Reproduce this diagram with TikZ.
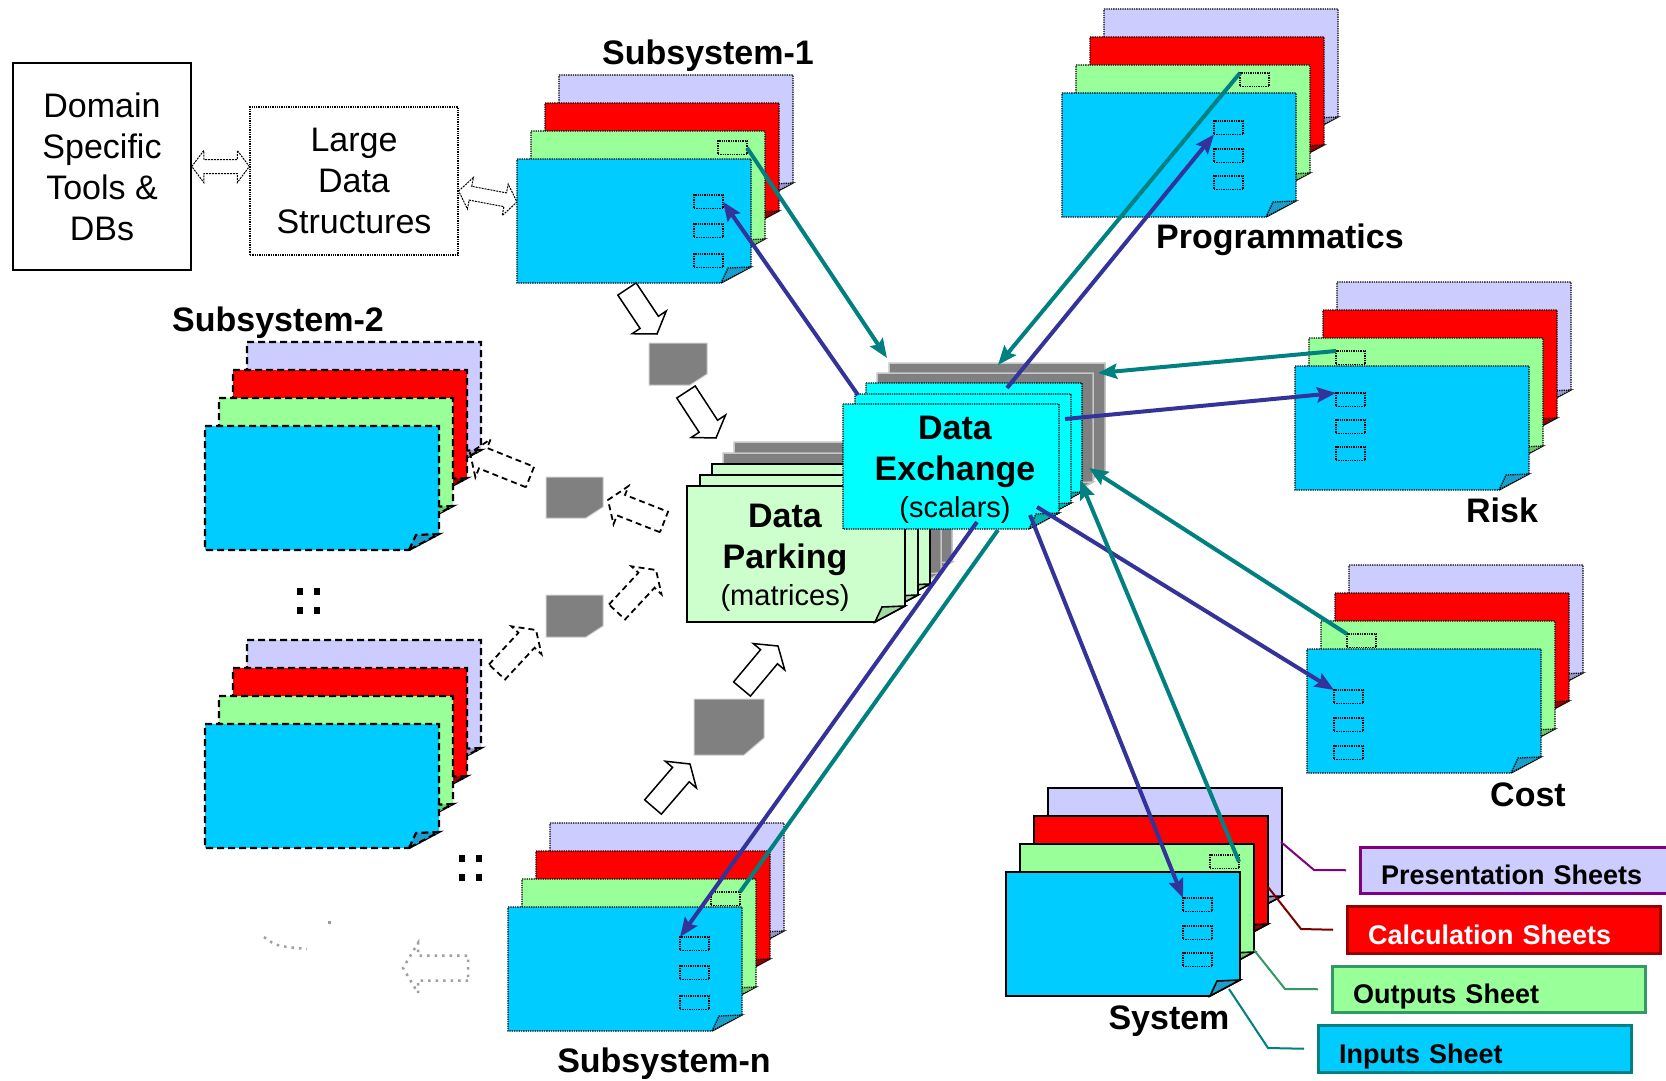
\documentclass[tikz,border=0pt]{standalone}
\usepackage{fontspec}
\setmainfont{Liberation Sans}
\usepackage{tikz}
\usetikzlibrary{calc, arrows.meta}
\definecolor{sheetlav}{HTML}{CCCCFF}
\definecolor{sheetred}{HTML}{FF0000}
\definecolor{sheetgreen}{HTML}{99FF99}
\definecolor{sheetblue}{HTML}{00CCFF}
\definecolor{foldlav}{HTML}{9999CC}
\definecolor{foldred}{HTML}{990000}
\definecolor{foldgreen}{HTML}{66CC66}
\definecolor{foldblue}{HTML}{1A9FCC}
\definecolor{dxcyan}{HTML}{00FFFF}
\definecolor{foldcyan}{HTML}{00B3B3}
\definecolor{parkgreen}{HTML}{CCFFCC}
\definecolor{foldpark}{HTML}{A3D9A3}
\definecolor{chunkgray}{HTML}{808080}
\definecolor{linkteal}{HTML}{008080}
\definecolor{linkindigo}{HTML}{333399}
\definecolor{legpurple}{HTML}{800080}
\definecolor{legred}{HTML}{990000}
\definecolor{legsea}{HTML}{339966}

% one sheet with a curled corner: x, y (top left), width, height, fill, curl fill
\newcommand{\docsheet}[7][]{%
  \filldraw[fill=#6, #1] (#2,#3) -- ++(#4,0) -- ++(0,#5-16) -- ++(-30,16) -- (#2,#3+#5) -- cycle;
  \filldraw[fill=#7, #1] (#2+#4-30,#3+#5) -- ++(7,-15) -- ++(23,-1) -- cycle;}
% the four sheets of one workbook, front sheet at x, y
\newcommand{\docstack}[3][]{%
  \docsheet[#1]{#2+42}{#3-84}{234}{124}{sheetlav}{foldlav}
  \docsheet[#1]{#2+28}{#3-56}{234}{124}{sheetred}{foldred}
  \docsheet[#1]{#2+14}{#3-28}{234}{124}{sheetgreen}{foldgreen}
  \docsheet[#1]{#2}{#3}{234}{124}{sheetblue}{foldblue}}
% grey block of data with a cut corner
\newcommand{\datachunk}[6]{%
  \filldraw[chunk] (#1,#2) -- (#3,#2) -- (#3,#4-#6) -- (#3-#5,#4) -- (#1,#4) -- cycle;}
% hollow block arrow: tail, tip, half shaft, half head, head length
\newcommand{\hollowarrow}[6][]{%
  \coordinate (ha-k) at ($(#3)!#6!(#2)$);
  \draw[#1] ($(#2)!#4!90:(#3)$) -- ($(ha-k)!#4!90:(#3)$) -- ($(ha-k)!#5!90:(#3)$) -- (#3)
    -- ($(ha-k)!#5!-90:(#3)$) -- ($(ha-k)!#4!-90:(#3)$) -- ($(#2)!#4!-90:(#3)$) -- cycle;}
% hollow two way arrow
\newcommand{\twowayarrow}[3][]{%
  \coordinate (tw-k1) at ($(#2)!12pt!(#3)$);
  \coordinate (tw-k2) at ($(#3)!12pt!(#2)$);
  \draw[#1] (#2) -- ($(tw-k1)!16pt!90:(#3)$) -- ($(tw-k1)!7pt!90:(#3)$) -- ($(tw-k2)!7pt!-90:(#2)$)
    -- ($(tw-k2)!16pt!-90:(#2)$) -- (#3) -- ($(tw-k2)!16pt!90:(#2)$) -- ($(tw-k2)!7pt!90:(#2)$)
    -- ($(tw-k1)!7pt!-90:(#3)$) -- ($(tw-k1)!16pt!-90:(#3)$) -- cycle;}

\begin{document}
\begin{tikzpicture}[x=1pt, y=-1pt,
  sheetdot/.style={draw=black, densely dotted, line width=1.3pt},
  sheetdash/.style={draw=black, dash pattern=on 7pt off 4pt, line width=2.2pt},
  sheetsolid/.style={draw=black, line width=1.6pt},
  sheetghost/.style={draw=gray!45, line width=1.5pt},
  cell/.style={draw=black, densely dotted, line width=1.3pt, minimum width=29pt, minimum height=13.5pt, inner sep=0pt, outer sep=0pt, anchor=north west},
  chunk/.style={fill=chunkgray, draw=gray!40, line width=1pt},
  blockarr/.style={fill=white, draw=black, line width=1.5pt},
  ghostarr/.style={draw=black, dash pattern=on 6pt off 4pt, line width=1.8pt},
  fadedarr/.style={draw=gray!75, dash pattern=on 2.5pt off 5pt, line width=2.5pt},
  dblarr/.style={fill=white, draw=black, dash pattern=on 2pt off 1pt, line width=1pt},
  tealink/.style={draw=linkteal, line width=4pt, -{Stealth[length=19pt, width=15pt, inset=3pt]}},
  bluelink/.style={draw=linkindigo, line width=4pt, -{Stealth[length=19pt, width=15pt, inset=3pt]}},
  leader/.style={line width=2pt},
  plaintext/.style={font=\fontsize{34}{41}\selectfont, align=center},
  lbl/.style={font=\bfseries\fontsize{34}{41}\selectfont},
  legbox/.style={anchor=north west, line width=3pt, outer sep=0pt, minimum height=46.5pt, inner xsep=21pt, text width=271pt, text height=29pt, text depth=0pt, align=left, font=\bfseries\fontsize{27}{31}\selectfont}]
\path[use as bounding box, fill=white] (0,0) rectangle (1666,1081);

% Tools and large data structures
\node[plaintext, draw, line width=1.5pt, minimum width=178pt, minimum height=207pt] (domain) at (102,166.5) {Domain\\Specific\\Tools \&\\DBs};
\node[plaintext, sheetdot, minimum width=208pt, minimum height=148pt] (large) at (354,181) {Large\\Data\\Structures};
\coordinate (dl-r) at (large.west |- domain.east);
\coordinate (ls-l) at ([yshift=-10pt]large.east);
\coordinate (ss1-left) at (517,202);
\twowayarrow[dblarr]{domain.east}{dl-r}
\twowayarrow[dblarr]{ls-l}{ss1-left}

% Subsystem-1
\docstack[sheetdot]{517}{159}
\foreach \yy [count=\k] in {195,224,254} \node[cell] (ss1-c\k) at (694,\yy) {};
\node[cell] (ss1-g) at (718,141) {};

% Subsystem-2 and the next one (not yet linked)
\docstack[sheetdash]{205}{426}
\docstack[sheetdash]{205}{724}
\foreach \dx in {0,17} \foreach \dy in {0,19} \fill (297+\dx,588+\dy) rectangle ++(6,7);
\foreach \dx in {0,17} \foreach \dy in {0,19} \fill (459+\dx,855+\dy) rectangle ++(6,7);

% blocks of data on their way to the parking
\datachunk{649}{343}{707}{385}{17}{11}
\datachunk{546}{477}{603}{518}{17}{11}
\datachunk{546}{595}{603}{637}{17}{11}
\datachunk{694}{699}{764}{755}{20}{17}
\coordinate (ss1-out) at (627,289); \coordinate (g1-in) at (657,334);
\coordinate (g1-out) at (686,392); \coordinate (dp-in1) at (716,438);
\coordinate (ssn-out) at (653,807); \coordinate (g4-in) at (690,764);
\coordinate (g4-out) at (742,689); \coordinate (dp-in2) at (778,646);
\hollowarrow[blockarr]{ss1-out}{g1-in}{11pt}{20.5pt}{14pt}
\hollowarrow[blockarr]{g1-out}{dp-in1}{11pt}{20.5pt}{14pt}
\hollowarrow[blockarr]{ssn-out}{g4-in}{11pt}{20.5pt}{14pt}
\hollowarrow[blockarr]{g4-out}{dp-in2}{11pt}{20.5pt}{14pt}
\coordinate (g2-out) at (530,477); \coordinate (ss2-in) at (470,453);
\coordinate (dp-out) at (664,522); \coordinate (g2-in) at (608,500);
\coordinate (ss3-out) at (497,672); \coordinate (g3-in) at (536,630);
\coordinate (g3-out) at (617,612); \coordinate (dp-in3) at (656,570);
\hollowarrow[ghostarr]{g2-out}{ss2-in}{11pt}{20.5pt}{14pt}
\hollowarrow[ghostarr]{dp-out}{g2-in}{11pt}{20.5pt}{14pt}
\hollowarrow[ghostarr]{ss3-out}{g3-in}{11pt}{20.5pt}{14pt}
\hollowarrow[ghostarr]{g3-out}{dp-in3}{11pt}{20.5pt}{14pt}

% faded leftovers
\coordinate (fade-tail) at (468,968); \coordinate (fade-tip) at (403,968);
\hollowarrow[fadedarr]{fade-tail}{fade-tip}{12.5pt}{25pt}{15pt}
\draw[fadedarr] (264,937) .. controls (276,946) .. (307,949);
\fill[gray!80] (327.5,920.5) rectangle ++(3,3);

% Data Parking
\docsheet[sheetghost]{734}{442}{218}{136}{chunkgray}{chunkgray}
\docsheet[sheetghost]{723}{453}{218}{136}{chunkgray}{chunkgray}
\docsheet[sheetsolid]{712}{464}{218}{136}{parkgreen}{foldpark}
\docsheet[sheetsolid]{700}{475}{218}{136}{parkgreen}{foldpark}
\docsheet[sheetsolid]{687}{486}{218}{136}{parkgreen}{foldpark}
\node[lbl, align=center] (dp) at (785,558) {Data\\Parking\\[-4pt]{\mdseries\fontsize{29}{35}\selectfont (matrices)}};

% Data Exchange
\docsheet[sheetghost]{889}{363}{216}{125}{chunkgray}{chunkgray}
\docsheet[sheetghost]{877}{373}{216}{125}{chunkgray}{chunkgray}
\docsheet[sheetdot]{866}{383}{216}{125}{dxcyan}{foldcyan}
\docsheet[sheetdot]{855}{394}{216}{125}{dxcyan}{foldcyan}
\docsheet[sheetdot]{843}{404}{216}{125}{dxcyan}{foldcyan}
\node[lbl, align=center] (dx) at (955,470) {Data\\Exchange\\[-4pt]{\mdseries\fontsize{29}{35}\selectfont (scalars)}};
\coordinate (dx-ss1in) at (887,358);  \coordinate (dx-ss1out) at (858,395);
\coordinate (dx-progin) at (998,365); \coordinate (dx-progout) at (1007,388);
\coordinate (dx-riskin) at (1098,373); \coordinate (dx-riskout) at (1065,419);
\coordinate (dx-costin) at (1089,468); \coordinate (dx-costout) at (1037,507);
\coordinate (dx-sysin) at (1080,480); \coordinate (dx-sysout) at (1030,515);
\coordinate (dx-ssnin) at (998,530);  \coordinate (dx-ssnout) at (977,522);

% Programmatics
\docstack[sheetdot]{1062}{93}
\foreach \yy [count=\k] in {121,149,176} \node[cell] (prog-c\k) at (1214,\yy) {};
\node[cell] (prog-g) at (1240,73) {};
% Risk
\docstack[sheetdot]{1295}{366}
\foreach \yy [count=\k] in {393,420,447} \node[cell] (risk-c\k) at (1336,\yy) {};
\node[cell] (risk-g) at (1336,351) {};
% Cost
\docstack[sheetdot]{1307}{649}
\foreach \yy [count=\k] in {690,718,746} \node[cell] (cost-c\k) at (1334,\yy) {};
\node[cell] (cost-g) at (1347,634) {};
% System
\docstack[sheetsolid]{1006}{872}
\foreach \yy [count=\k] in {898,926,953} \node[cell] (sys-c\k) at (1183,\yy) {};
\node[cell] (sys-g) at (1210,855) {};
% Subsystem-n
\docstack[sheetdot]{508}{907}
\foreach \yy [count=\k] in {937,966,996} \node[cell] (ssn-c\k) at (680,\yy) {};
\node[cell] (ssn-g) at (711,892) {};

% Legend
\node[legbox, draw=legpurple, fill=sheetlav, text width=300pt] (leg-pres) at (1360,847) {Presentation Sheets};
\node[legbox, draw=legred, fill=sheetred, text=white] (leg-calc) at (1347,906.5) {Calculation Sheets};
\node[legbox, draw=legsea, fill=sheetgreen] (leg-out) at (1332,966) {Outputs Sheet};
\node[legbox, draw=linkteal, fill=sheetblue] (leg-in) at (1318,1025.5) {Inputs Sheet};
\coordinate (sys-lav) at (1281,842); \coordinate (sys-red) at (1268,887);
\coordinate (sys-grn) at (1254,950); \coordinate (sys-blu) at (1229,989);
\draw[leader, legpurple] (sys-lav) -- ++(33,28) -- ([xshift=-14pt]leg-pres.west);
\draw[leader, legred!80!black] (sys-red) -- ++(33,42) -- ([xshift=-14pt]leg-calc.west);
\draw[leader, legsea] (sys-grn) -- ++(31,39) -- ([xshift=-14pt]leg-out.west);
\draw[leader, linkteal] (sys-blu) -- ++(39,59) -- ([xshift=-14pt]leg-in.west);

% Links through the data exchange
\draw[tealink] (ss1-g.east) -- (dx-ss1in);
\draw[bluelink] (dx-ss1out) -- (ss1-c1.east);
\draw[tealink] (prog-g.north west) -- (dx-progin);
\draw[bluelink] (dx-progout) -- (prog-c1.south west);
\draw[tealink] (risk-g.north west) -- (dx-riskin);
\draw[bluelink] (dx-riskout) -- (risk-c1.north west);
\draw[tealink] (cost-g.north west) -- (dx-costin);
\draw[bluelink] (dx-costout) -- (cost-c1.north west);
\draw[tealink] (sys-g.east) -- (dx-sysin);
\draw[bluelink] (dx-sysout) -- (sys-c1.north west);
\draw[bluelink] (dx-ssnout) -- (ssn-c1.north west);
\draw[tealink, -] (ssn-g.north east) -- (dx-ssnin);

% Workbook names
\node[lbl] (lbl-ss1) at (708,56) {Subsystem-1};
\node[lbl] (lbl-ss2) at (278,323) {Subsystem-2};
\node[lbl] (lbl-ssn) at (664,1064) {Subsystem-n};
\node[lbl] (lbl-prog) at (1280,240) {Programmatics};
\node[lbl] (lbl-risk) at (1502,510) {Risk};
\node[lbl] (lbl-cost) at (1528,795) {Cost};
\node[lbl] (lbl-sys) at (1169,1021) {System};
\end{tikzpicture}
\end{document}
